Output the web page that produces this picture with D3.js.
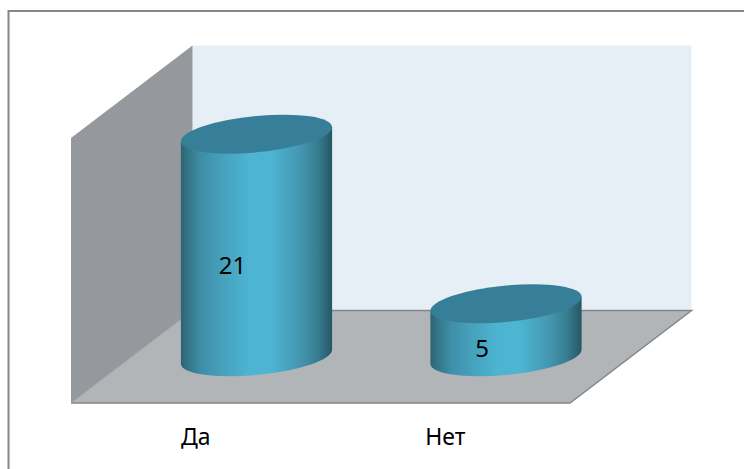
<!DOCTYPE html>
<html>
<head>
<meta charset="utf-8">
<style>
  html, body { margin: 0; padding: 0; background: #fff; }
  svg { display: block; }
</style>
</head>
<body>
<div id="chart"></div>
<script src="https://cdn.jsdelivr.net/npm/d3@7"></script>
<script>
const categories = ["Да", "Нет"];
const values = [21, 5];
const axisMax = 25;

const width = 744;
const height = 469;

// chart box corners, front-left is the origin of the 3d look
const left = 71, right = 570, bottom = 403;
const depthX = 121.5, depthY = 92.5;
const wallHeight = 265;

const x = d3.scaleBand().domain(categories).range([left, right]);
const y = d3.scaleLinear().domain([0, axisMax]).range([0, wallHeight]);

const svg = d3.select("#chart")
    .append("svg")
    .attr("width", width)
    .attr("height", height)
    .attr("font-family", "'Noto Sans', sans-serif");

const defs = svg.append("defs");
const grad = defs.append("linearGradient").attr("id", "side");
[[0, "#2b6475"], [0.05, "#357689"], [0.14, "#3f8fa9"], [0.28, "#46a2bd"], [0.45, "#4db4d1"],
 [0.6, "#4db4d1"], [0.78, "#4498b1"], [0.9, "#397e93"], [1, "#255765"]]
    .forEach(s => grad.append("stop").attr("offset", s[0]).attr("stop-color", s[1]));

// frame
svg.append("path")
    .attr("d", `M8.5,${height}V11H${width}`)
    .attr("fill", "none")
    .attr("stroke", "#868686")
    .attr("stroke-width", 2);

// walls and floor
const line = d3.line();
const backX = left + depthX, backY = bottom - depthY;
svg.append("path")
    .attr("d", line([[backX, backY], [backX, backY - wallHeight], [right + depthX, backY - wallHeight], [right + depthX, backY]]) + "Z")
    .attr("fill", "#e7eff6");
svg.append("path")
    .attr("d", line([[left, bottom], [left, bottom - wallHeight], [backX, backY - wallHeight], [backX, backY]]) + "Z")
    .attr("fill", "#95989c");
svg.append("path")
    .attr("d", line([[left, bottom], [right, bottom], [right + depthX, backY], [backX, backY]]) + "Z")
    .attr("fill", "#b1b5b8");
// floor edges
svg.append("path")
    .attr("d", line([[backX, backY], [right + depthX, backY], [right, bottom], [left, bottom]]))
    .attr("fill", "none")
    .attr("stroke", "#868686")
    .attr("stroke-width", 1.5);
svg.append("path")
    .attr("d", line([[left, bottom], [backX, backY]]))
    .attr("fill", "none")
    .attr("stroke", "#a0a2a5")
    .attr("stroke-width", 1);

// cylinders
const rx = x.bandwidth() * 0.303;
const ry = 18.2;
const tilt = 7 / 75.5;

const bar = svg.append("g")
    .selectAll("g")
    .data(categories)
    .enter().append("g")
    .attr("transform", d => `matrix(1,${-tilt},0,1,${x(d) + x.bandwidth() / 2 + depthX / 2},${bottom - depthY / 2})`);

bar.append("path")
    .attr("d", (d, i) => `M${-rx},${-y(values[i])}V0A${rx},${ry} 0 0 0 ${rx},0V${-y(values[i])}Z`)
    .attr("fill", "url(#side)");

bar.append("ellipse")
    .attr("rx", rx)
    .attr("ry", ry)
    .attr("cy", (d, i) => -y(values[i]))
    .attr("fill", "#377f98");

// value labels
svg.append("g")
    .selectAll("text")
    .data(categories)
    .enter().append("text")
    .attr("x", d => x(d) + x.bandwidth() / 2 + depthX / 2 - 24)
    .attr("y", (d, i) => bottom - depthY / 2 - y(values[i]) / 2 + (i ? 27 : 29))
    .attr("text-anchor", "middle")
    .attr("font-size", 24)
    .attr("fill", "#000")
    .text((d, i) => values[i]);

// category labels
svg.append("g")
    .selectAll("text")
    .data(categories)
    .enter().append("text")
    .attr("x", d => x(d) + x.bandwidth() / 2)
    .attr("y", 445)
    .attr("text-anchor", "middle")
    .attr("font-size", 23)
    .attr("fill", "#000")
    .text(d => d);
</script>
</body>
</html>
